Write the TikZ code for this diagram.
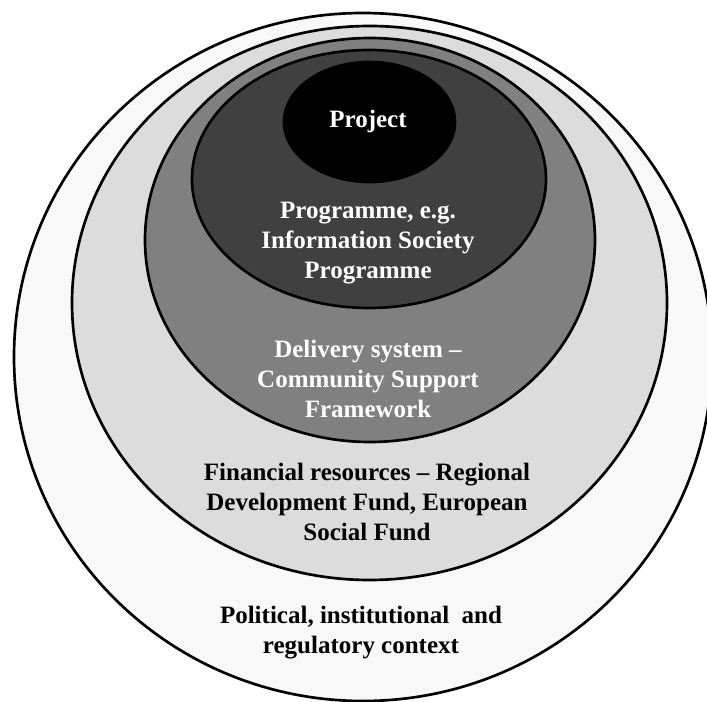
\documentclass[tikz,border=0pt]{standalone}
\usepackage{fontspec}
\setmainfont{Liberation Serif}
\usetikzlibrary{shapes.geometric}
\definecolor{ringA}{RGB}{248,248,248}
\definecolor{ringB}{RGB}{220,220,220}
\definecolor{ringC}{RGB}{128,128,128}
\definecolor{ringD}{RGB}{64,64,64}
\begin{document}
\begin{tikzpicture}[x=0.75pt,y=-0.75pt,
  ring/.style={draw=black, line width=2pt},
  label/.style={align=center, font=\fontsize{18.75}{22.5}\selectfont\bfseries, inner sep=0pt},
  lightlabel/.style={label, text=white},
  darklabel/.style={label, text=black}]
  \clip (0,0) rectangle (707,702);
  \fill[white] (0,0) rectangle (707,702);
  % nested layers, outermost first
  \filldraw[ring, fill=ringA] (363,357) ellipse [x radius=349, y radius=344];
  \filldraw[ring, fill=ringB] (369.5,303) ellipse [x radius=297.5, y radius=277];
  \filldraw[ring, fill=ringC] (370,240) ellipse [x radius=225, y radius=202];
  \filldraw[ring, fill=ringD] (369,179) ellipse [x radius=177, y radius=129];
  \filldraw[ring, fill=black] (369.5,122) ellipse [x radius=85.5, y radius=60];
  % layer labels
  \node[lightlabel] (project) at (368,121) {Project};
  \node[lightlabel] (programme) at (368,243) {Programme, e.g.\\Information Society\\Programme};
  \node[lightlabel] (delivery) at (368,379) {Delivery system –\\Community Support\\Framework};
  \node[darklabel] (finance) at (367,502) {Financial resources – Regional\\Development Fund, European\\Social Fund};
  \node[darklabel] (context) at (361,633) {Political, institutional\ \ and\\regulatory context};
\end{tikzpicture}
\end{document}
